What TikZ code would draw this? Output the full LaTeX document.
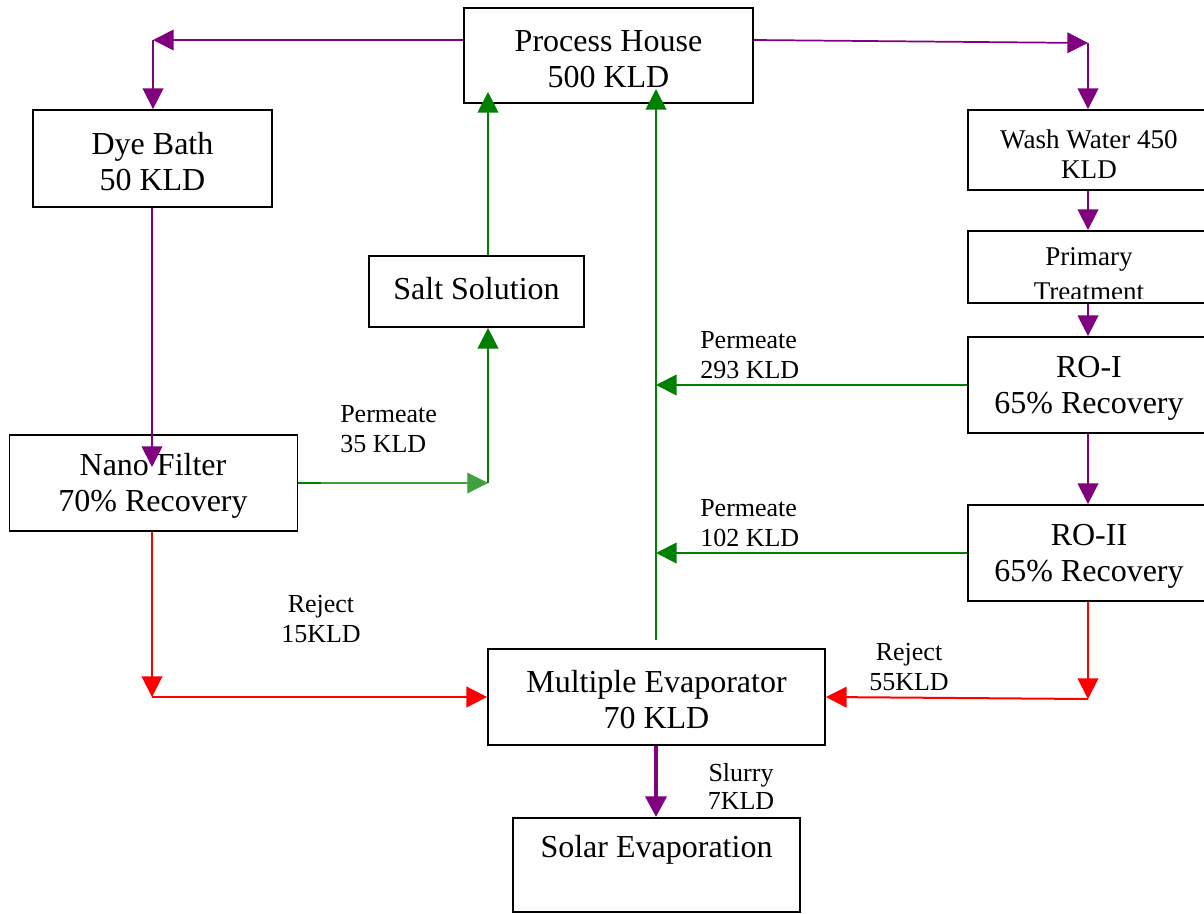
\documentclass[tikz,border=0pt]{standalone}
\usepackage{fontspec}
\setmainfont{Liberation Serif}
\usetikzlibrary{arrows.meta}
\definecolor{cpur}{RGB}{128,0,128}
\definecolor{cgrn}{RGB}{0,128,0}
\definecolor{cred}{RGB}{255,0,0}
\tikzset{
  sz/.style 2 args={minimum width=#1*0.75pt, minimum height=#2*0.75pt},
  box/.style={draw=black, line width=1.4pt, inner sep=0pt},
  big/.style={inner sep=0pt, align=center, font=\fontsize{24}{27}\selectfont},
  small/.style={inner sep=0pt, align=center, font=\fontsize{20.3}{23}\selectfont},
  lab/.style={inner sep=0pt, align=left, font=\fontsize{19.5}{22.5}\selectfont},
  tip/.style={-{Triangle[length=15.5pt,width=15.5pt]}},
  pur/.style={tip, draw=cpur, line width=1.3pt},
  purthick/.style={tip, draw=cpur, line width=3.5pt},
  grn/.style={tip, draw=cgrn, line width=1.5pt},
  grnthin/.style={tip, draw=cgrn!75!white, line width=0.8pt},
  rd/.style={tip, draw=cred, line width=1.5pt},
}
\begin{document}
\begin{tikzpicture}[x=0.75pt,y=-0.75pt]
\clip (0,0) rectangle (1204,914);
\fill[white] (0,0) rectangle (1204,914);

% boxes
\node[box, sz={289}{95}] (ph) at (608.5,55.5) {};
\node[big] (pht) at (608.5,59.5) {Process House\\500 KLD};
\node[box, sz={239}{97}] (dye) at (152.5,158.5) {};
\node[big] (dyet) at (152.5,161.5) {Dye Bath\\50 KLD};
\node[box, sz={242}{80}] (wash) at (1089,150) {};
\node[small] (washt) at (1089,154) {Wash Water 450\\KLD};
\node[box, sz={242}{72}] (prim) at (1089,267) {};
\begin{scope}
  \clip (969,232) rectangle (1210,298);
  \node[small, anchor=base] (primt1) at (1089,265) {Primary};
  \node[small, anchor=base] (primt2) at (1089,300) {Treatment};
\end{scope}
\node[box, sz={242}{96}] (ro1) at (1089,385) {};
\node[big] (ro1t) at (1089,388) {RO-I\\65\% Recovery};
\node[box, sz={242}{96}] (ro2) at (1089,553) {};
\node[big] (ro2t) at (1089,556.5) {RO-II\\65\% Recovery};
\node[box, sz={215}{71}] (salt) at (476.5,291.5) {};
\node[big] (saltt) at (476.5,288.5) {Salt Solution};
\node[box, sz={288}{96}] (nano) at (153.5,483) {};
\node[big] (nanot) at (153,486) {Nano Filter\\70\% Recovery};
\node[box, sz={337}{96}] (evap) at (656.5,697) {};
\node[big] (evapt) at (656.5,699.5) {Multiple Evaporator\\70 KLD};
\node[box, sz={287}{94}] (solar) at (656.5,865) {};
\node[big] (solart) at (656.5,849.5) {Solar Evaporation};

% coordinates
\coordinate (c1) at (153,40);
\coordinate (c2) at (1088,43);
\coordinate (nanoin) at (152,467);
\coordinate (g1) at (488,92);
\coordinate (g2) at (656,89);
\coordinate (g3) at (656,640);
\coordinate (g4) at (488,483);
\coordinate (r1) at (152,697);
\coordinate (r2) at (1088,699);

% purple
\draw[pur] (ph.west |- c1) -- (c1);
\draw[pur] (c1) -- (dye.north -| c1);
\draw[pur] (ph.east |- c1) -- (c2);
\draw[pur] (c2) -- (wash.north -| c2);
\draw[pur] (dye.south -| nanoin) -- (nanoin);
\draw[pur] (wash.south -| c2) -- (prim.north -| c2);
\draw[pur] (prim.south -| c2) -- (ro1.north -| c2);
\draw[pur] (ro1.south -| c2) -- (ro2.north -| c2);
\draw[purthick] (evap.south -| g2) -- (solar.north -| g2);

% green
\draw[grn] (salt.north -| g1) -- (g1);
\draw[grn] (g3) -- (g2);
\draw[grn] (ro1.west) -- (ro1.west -| g2);
\draw[grn] (ro2.west) -- (ro2.west -| g2);
\draw[grnthin] (nano.east |- g4) -- (g4);
\draw[cgrn, line width=1.2pt] (nano.east |- g4) -- ++(23,0);
\draw[grn] (g4) -- (salt.south -| g4);

% red
\draw[rd] (nano.south -| r1) -- (r1);
\draw[rd] (r1) -- (evap.west);
\draw[rd] (ro2.south -| r2) -- (r2);
\draw[rd] (r2) -- (evap.east);

% labels
\node[lab, anchor=west] (l1) at (340,429) {Permeate\\35 KLD};
\node[lab, anchor=west] (l2) at (700,355) {Permeate\\293 KLD};
\node[lab, anchor=west] (l3) at (700,523) {Permeate\\102 KLD};
\node[lab, align=center] (l4) at (321,619) {Reject\\15KLD};
\node[lab, align=center] (l5) at (909,667) {Reject\\55KLD};
\node[lab, align=center, font=\fontsize{19.5}{21}\selectfont] (l6) at (741,786) {Slurry\\7KLD};
\end{tikzpicture}
\end{document}
